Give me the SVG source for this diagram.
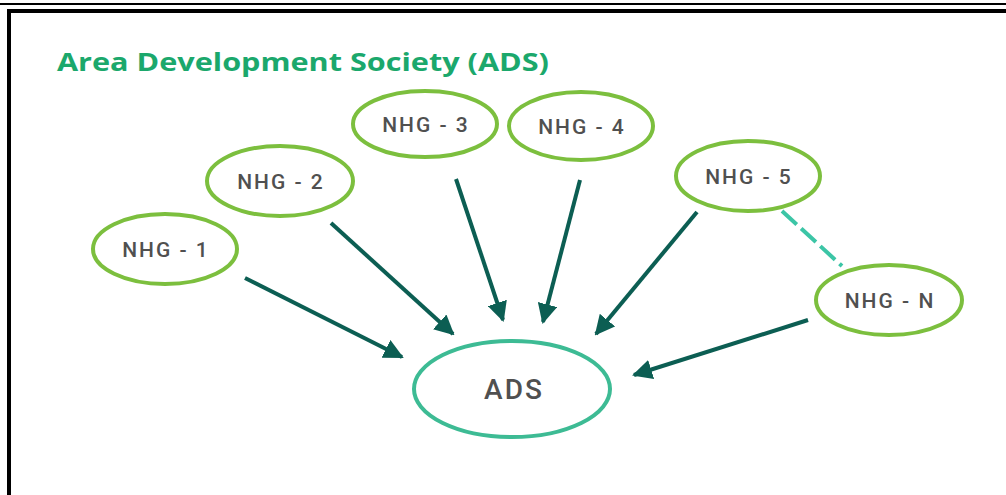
<svg xmlns="http://www.w3.org/2000/svg" width="1006" height="495" viewBox="0 0 1006 495">
<style>
.nhg{fill:#fff;stroke:#7cbf3e;stroke-width:4}
.ads{fill:#fff;stroke:#3dbb94;stroke-width:4}
.lbl{font-family:"Roboto","Liberation Sans",sans-serif;font-weight:500;fill:#505050;text-anchor:middle}
.s{font-size:21px;letter-spacing:2px}
.arr{stroke:#0c5e53;stroke-width:4;fill:none;marker-end:url(#ah)}
.dash{stroke:#3cc5a6;stroke-width:4;fill:none;stroke-dasharray:20 6}
</style>
<defs>
<marker id="ah" viewBox="0 0 10 10" refX="9" refY="5" markerWidth="5" markerHeight="5" markerUnits="strokeWidth" orient="auto">
<path d="M0,0 L10,5 L0,10 z" fill="#0c5e53"/>
</marker>
</defs>
<rect width="1006" height="495" fill="#fff"/>
<g id="frame" fill="#000">
<rect x="0" y="3" width="1006" height="2"/>
<rect x="7" y="9" width="999" height="4"/>
<rect x="7" y="9" width="4" height="486"/>
</g>
<text id="title" x="57" y="71" font-family="'Open Sans','Liberation Sans',sans-serif" font-weight="bold" font-size="25" fill="#1ba86c" textLength="492" lengthAdjust="spacingAndGlyphs">Area Development Society (ADS)</text>
<g id="connectors">
<line class="arr" x1="245" y1="278" x2="402" y2="357"/>
<line class="arr" x1="331" y1="223" x2="453" y2="334"/>
<line class="arr" x1="456" y1="179" x2="503" y2="320"/>
<line class="arr" x1="580" y1="180" x2="543" y2="322"/>
<line class="arr" x1="697" y1="212" x2="596" y2="334"/>
<line class="arr" x1="808" y1="320" x2="634" y2="375"/>
<line class="dash" x1="782" y1="211" x2="842" y2="266"/>
</g>
<g id="nhg1"><ellipse class="nhg" cx="165" cy="249" rx="72" ry="35"/><text class="lbl s" x="166" y="257">NHG - 1</text></g>
<g id="nhg2"><ellipse class="nhg" cx="280" cy="181" rx="73" ry="35"/><text class="lbl s" x="281" y="189">NHG - 2</text></g>
<g id="nhg3"><ellipse class="nhg" cx="425" cy="124" rx="72" ry="33"/><text class="lbl s" x="426" y="132">NHG - 3</text></g>
<g id="nhg4"><ellipse class="nhg" cx="581" cy="126" rx="72" ry="34"/><text class="lbl s" x="582" y="134">NHG - 4</text></g>
<g id="nhg5"><ellipse class="nhg" cx="748" cy="176" rx="72" ry="35"/><text class="lbl s" x="749" y="184">NHG - 5</text></g>
<g id="nhgN"><ellipse class="nhg" cx="889" cy="300" rx="73" ry="35"/><text class="lbl s" x="890" y="308">NHG - N</text></g>
<g id="ads"><ellipse class="ads" cx="512" cy="389" rx="98" ry="48"/><text class="lbl" x="514" y="399" font-size="28" letter-spacing="2">ADS</text></g>
</svg>
